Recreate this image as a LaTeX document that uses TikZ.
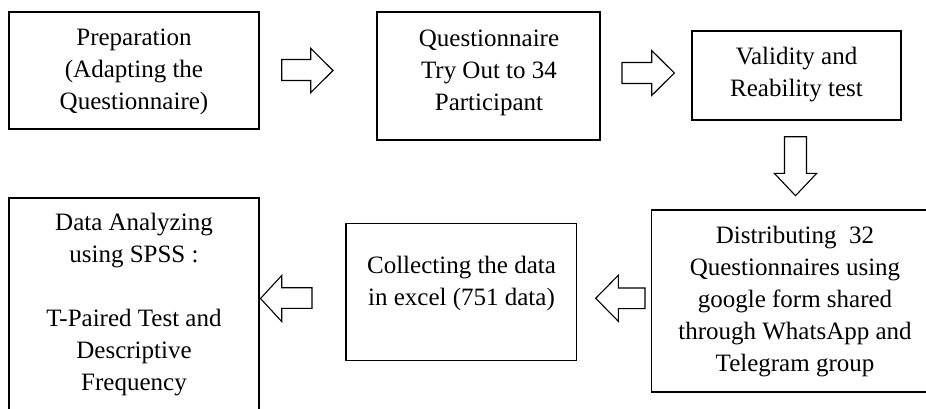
\documentclass[tikz,border=0pt]{standalone}
\usepackage{fontspec}
\setmainfont{Liberation Serif}
\tikzset{
  box/.style={draw=black, line width=1.3pt, rectangle, inner sep=0pt},
  txt/.style={align=center, inner sep=0pt, font=\fontsize{25}{32}\selectfont},
  blk/.style={draw=black, line width=1.1pt, fill=white, line join=miter}
}
\newcommand{\sr}{\rule[-9.6pt]{0pt}{32pt}}
\begin{document}
\begin{tikzpicture}[x=1pt,y=-1pt]
\path[use as bounding box, clip] (0,0) rectangle (926,408);
\fill[white] (0,0) rectangle (926,408);
% boxes
\node[box, minimum width=250, minimum height=117] (b1) at (134,70.5) {};
\node[box, minimum width=223, minimum height=128] (b2) at (488.5,76) {};
\node[box, minimum width=209, minimum height=89] (b3) at (796.5,75.5) {};
\node[box, minimum width=287.5, minimum height=182] (b4) at (795.25,301) {};
\node[box, minimum width=230.7, minimum height=137.2] (b5) at (461.35,291.9) {};
\node[box, minimum width=250, minimum height=240] (b6) at (134,318) {};
% texts
\node[txt] (t1) at (134,71.2) {\sr Preparation\\\sr (Adapting the\\\sr Questionnaire)};
\node[txt] (t2) at (489,71.7) {\sr Questionnaire\\\sr Try Out to 34\\\sr Participant};
\node[txt] (t3) at (796.5,73.7) {\sr Validity and\\\sr Reability test};
\node[txt] (t4) at (795,301.5) {\sr Distributing\ \ 32\\\sr Questionnaires using\\\sr google form shared\\\sr through WhatsApp and\\\sr Telegram group};
\node[txt] (t5) at (461.5,282.7) {\sr Collecting the data\\\sr in excel (751 data)};
\node[txt] (t6) at (134,304) {\sr Data Analyzing\\\sr using SPSS :\\\sr \\\sr T-Paired Test and\\\sr Descriptive\\\sr Frequency};
% block arrows
\draw[blk] (281.7,59.5) -- (310.7,59.5) -- (310.7,48.3) -- (333,70.5) -- (310.7,92.7) -- (310.7,80.5) -- (281.7,80.5) -- cycle;
\draw[blk] (622,62.5) -- (651.7,62.5) -- (651.7,50.5) -- (674.3,73) -- (651.7,95.5) -- (651.7,83.5) -- (622,83.5) -- cycle;
\draw[blk] (784.5,136.7) -- (784.5,173.3) -- (774.3,173.3) -- (795.5,195.7) -- (816.7,173.3) -- (806.5,173.3) -- (806.5,136.7) -- cycle;
\draw[blk] (645,288) -- (618.3,288) -- (618.3,275.3) -- (595.7,298.3) -- (618.3,321.3) -- (618.3,308.6) -- (645,308.6) -- cycle;
\draw[blk] (312,287.7) -- (281.7,287.7) -- (281.7,275.5) -- (260.5,298.5) -- (281.7,321.5) -- (281.7,308.3) -- (312,308.3) -- cycle;
\end{tikzpicture}
\end{document}
